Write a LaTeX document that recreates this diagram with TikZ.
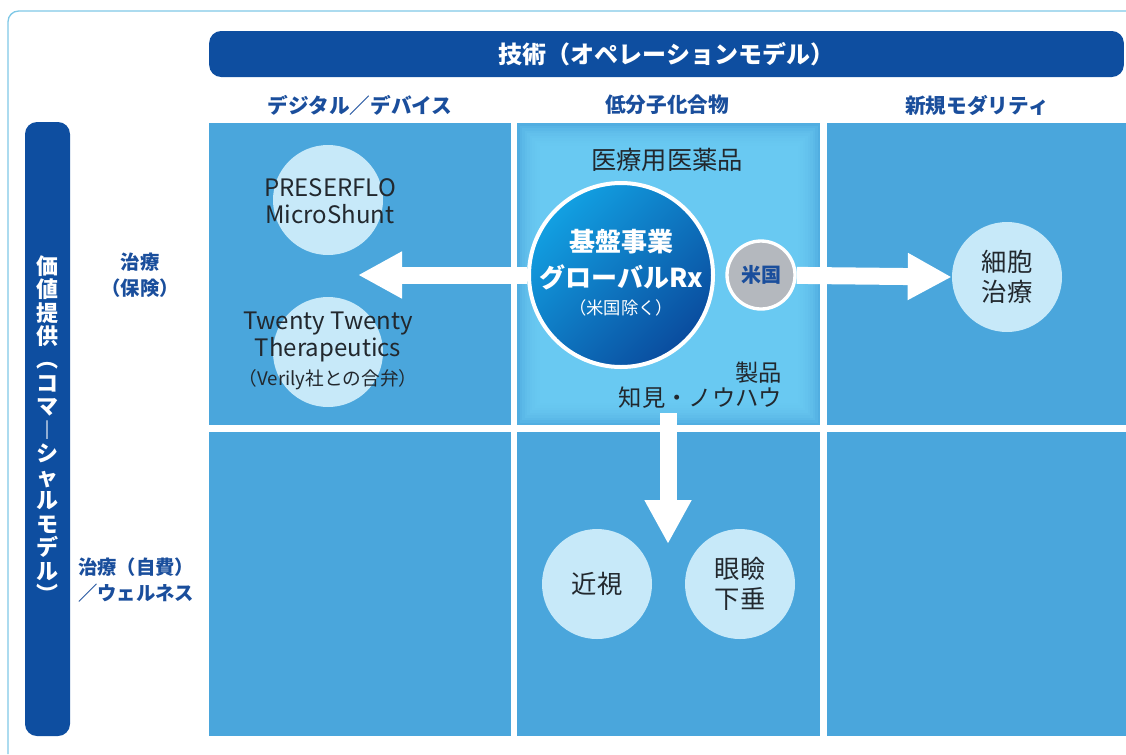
\documentclass[tikz,border=0pt]{standalone}
\usepackage{fontspec}
\setmainfont{Noto Sans CJK JP}
\usetikzlibrary{arrows.meta, positioning, calc}
\definecolor{barblue}{HTML}{0E4EA0}
\definecolor{headblue}{HTML}{1A4E9C}
\definecolor{cellblue}{HTML}{4AA6DC}
\definecolor{glowblue}{HTML}{6FD0F6}
\definecolor{bubblecol}{HTML}{C7E9F9}
\definecolor{framecol}{HTML}{7FC8E6}
\definecolor{inktext}{HTML}{22282E}
\definecolor{usgray}{HTML}{B4B8BE}
\definecolor{rxtop}{HTML}{12A0E2}
\definecolor{rxbot}{HTML}{0A4C9E}

\begin{document}
\begin{tikzpicture}[x=0.75pt,y=-0.75pt,
    colhead/.style={text=headblue, font=\bfseries\fontsize{15.5}{18}\selectfont},
    rowhead/.style={text=headblue, align=center, font=\bfseries\fontsize{14.5}{19.5}\selectfont},
    bubble/.style={circle, fill=bubblecol, minimum size=82.5pt, inner sep=0pt, align=center,
        text=inktext, font=\fontsize{19}{22.5}\selectfont},
    bubbletext/.style={align=center, text=inktext, font=\fontsize{18}{20.5}\selectfont},
    rxline/.style={text=white, font=\bfseries\fontsize{19.5}{22}\selectfont},
    bigarrow/.style={draw=white, line width=12.75pt, -{Triangle[width=33pt,length=33pt]}}]
    \useasboundingbox (0,0) rectangle (1126,754);

    % frame and bars
    \draw[framecol, line width=1pt, rounded corners=8pt] (8,754) -- (8,11) -- (1126,11);
    \node[fill=barblue, rounded corners=9pt, minimum width=686pt, minimum height=34.5pt,
        text=white, font=\bfseries\fontsize{18}{20}\selectfont] (techbar) at (666.5,54)
        {技術（オペレーションモデル）};
    \node[fill=barblue, rounded corners=9pt, minimum width=33.75pt, minimum height=460.5pt,
        text=white, align=center, font=\bfseries\fontsize{16.5}{17.6}\selectfont] (valuebar) at (47.5,429)
        {価\\値\\提\\供\\︵\\コ\\マ\\︱\\シ\\ャ\\ル\\モ\\デ\\ル\\︶};

    % grid
    \foreach \xa/\xb in {209/511,517/820,827/1126}
        \foreach \ya/\yb in {123/425,432/736}
            \fill[cellblue] (\xa,\ya) rectangle (\xb,\yb);
    \foreach \i in {0,...,9}
        \fill[glowblue, opacity=0.2] (517+\i*2.5,123+\i*2.5) rectangle (820-\i*2.5,425-\i*2.5);

    % headers
    \node[colhead] (digital) at (360,105) {デジタル／デバイス};
    \node[colhead] (smallmol) at (667,105) {低分子化合物};
    \node[colhead] (modality) at (977,105) {新規モダリティ};
    \node[rowhead] (insured) at (140,275) {治療\\（保険）};
    \node[rowhead] (wellness) at (136,580) {治療（自費）\\／ウェルネス};

    % centre cell
    \node[text=inktext, font=\fontsize{19}{22}\selectfont] (ethical) at (667,160) {医療用医薬品};
    \node[anchor=east, align=right, text=inktext, font=\fontsize{17.5}{19}\selectfont] (know) at (787,385)
        {製品\\知見・ノウハウ};
    \node[circle, draw=white, line width=3pt, top color=rxtop, bottom color=rxbot, shading angle=45,
        minimum size=138pt, inner sep=0pt] (rx) at (621,275) {};
    \node[rxline] (rxa) at ($(rx)+(0,-33)$) {基盤事業};
    \node[rxline] (rxb) at ($(rx)+(0,2)$) {グローバルRx};
    \node[text=white, font=\fontsize{13}{15}\selectfont] (rxc) at ($(rx)+(0,33)$) {（米国除く）};
    \node[circle, draw=white, line width=2.5pt, fill=usgray, minimum size=51pt, inner sep=0pt,
        text=headblue, font=\bfseries\fontsize{15}{18}\selectfont] (us) at (761,275) {米国};

    % bubbles
    \node[bubble] (preserflo) at (328,200) {};
    \node[bubbletext] at (330,201) {PRESERFLO\\MicroShunt};
    \node[bubble] (twenty) at (328,352) {};
    \node[bubbletext] at (328,351) {Twenty Twenty\\Therapeutics\\[1pt]{\fontsize{14}{16}\selectfont（Verily社との合弁）}};
    \node[bubble] (celltx) at (1007,277) {細胞\\治療};
    \node[bubble] (myopia) at (597,584) {近視};
    \node[bubble] (ptosis) at (740,584) {眼瞼\\下垂};

    % arrows
    \coordinate (lefttip) at (358,275);
    \coordinate (downtip) at (668,544);
    \draw[bigarrow] (rx) -- (lefttip);
    \draw[bigarrow] (us) -- (celltx.west);
    \draw[bigarrow] (know.south -| downtip) -- (downtip);
\end{tikzpicture}
\end{document}
